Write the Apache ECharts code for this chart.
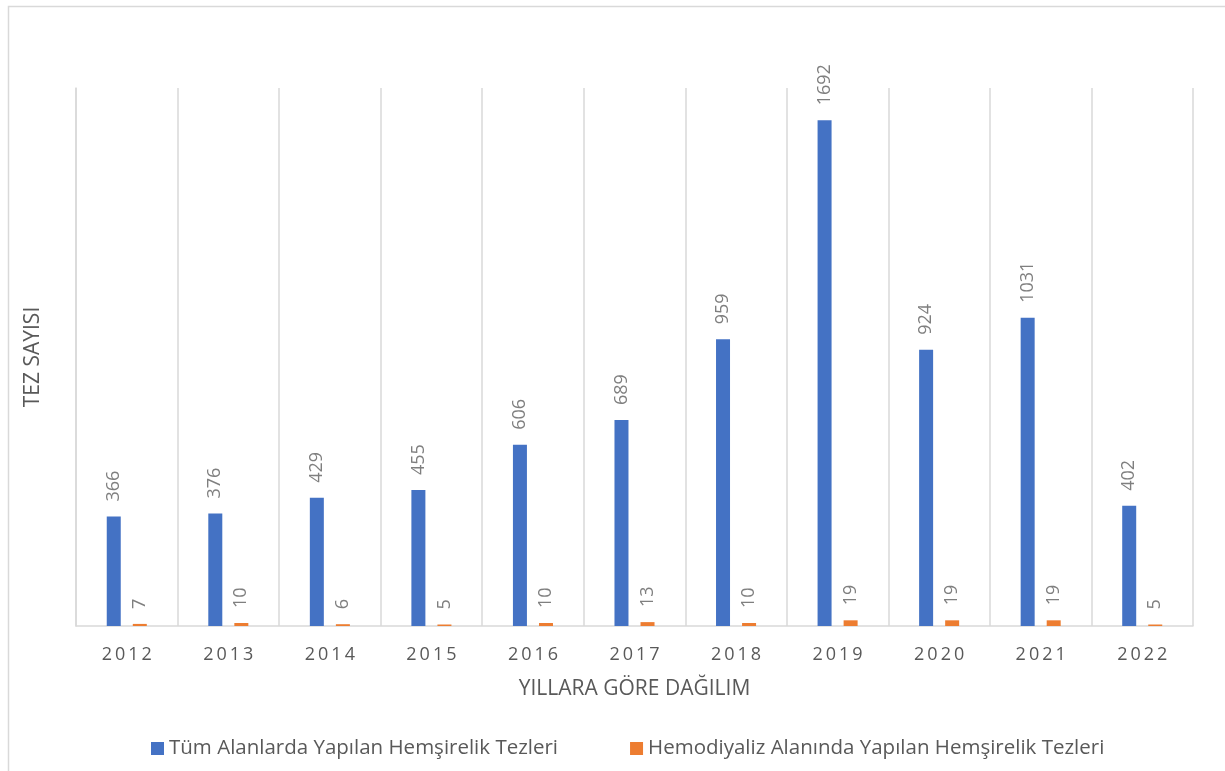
<!DOCTYPE html>
<html>
<head>
<meta charset="utf-8">
<script src="https://cdn.jsdelivr.net/npm/echarts@6/dist/echarts.min.js"></script>
<style>
  html, body { margin: 0; padding: 0; background: #fff; }
  #chart { width: 1225px; height: 771px; }
</style>
</head>
<body>
<div id="chart"></div>
<script>
  // yıllar ve tez sayıları
  const years = ['2012', '2013', '2014', '2015', '2016', '2017', '2018', '2019', '2020', '2021', '2022'];
  const tumAlanlar = [366, 376, 429, 455, 606, 689, 959, 1692, 924, 1031, 402];
  const hemodiyaliz = [7, 10, 6, 5, 10, 13, 10, 19, 19, 19, 5];

  const fontFam = '"Open Sans", "Noto Sans", sans-serif';
  const barLabel = {
    show: true,
    position: 'top',
    rotate: 90,
    align: 'left',
    verticalAlign: 'middle',
    distance: 15,
    color: '#7f7f7f',
    fontSize: 18,
    fontFamily: fontFam
  };

  let chart = echarts.init(document.getElementById('chart'));
  chart.setOption({
    animation: false,
    textStyle: { fontFamily: fontFam },
    graphic: [{
      type: 'rect',
      shape: { x: 8.5, y: 6.5, width: 1400, height: 900 },
      style: { fill: 'none', stroke: '#d9d9d9', lineWidth: 1.5 },
      silent: true
    }],
    legend: {
      left: 146,
      top: 733,
      itemWidth: 13,
      itemHeight: 13,
      itemGap: 72,
      icon: 'rect',
      textStyle: { color: '#595959', fontSize: 20.5, fontFamily: fontFam },
      data: ['Tüm Alanlarda Yapılan Hemşirelik Tezleri', 'Hemodiyaliz Alanında Yapılan Hemşirelik Tezleri']
    },
    grid: { left: 76, right: 32, top: 88, bottom: 145 },
    xAxis: {
      type: 'category',
      data: years,
      name: 'YILLARA GÖRE DAĞILIM',
      nameLocation: 'middle',
      nameGap: 53,
      nameTextStyle: { color: '#595959', fontSize: 21, fontFamily: fontFam },
      axisLine: { lineStyle: { color: '#d9d9d9', width: 1.5 } },
      axisTick: { show: false },
      axisLabel: {
        color: '#595959',
        fontSize: 18,
        margin: 20,
        formatter: (v) => v.split('').join('\u2009')
      },
      splitLine: { show: true, lineStyle: { color: '#d9d9d9', width: 1.5 } }
    },
    yAxis: {
      type: 'value',
      min: 0,
      max: 1800,
      name: 'TEZ SAYISI',
      nameLocation: 'middle',
      nameGap: 32,
      nameRotate: 90,
      nameTextStyle: { color: '#595959', fontSize: 21, fontFamily: fontFam },
      axisLine: { show: true, lineStyle: { color: '#d9d9d9', width: 1.5 } },
      axisTick: { show: false },
      axisLabel: { show: false },
      splitLine: { show: false }
    },
    series: [{
      name: 'Tüm Alanlarda Yapılan Hemşirelik Tezleri',
      type: 'bar',
      data: tumAlanlar,
      barWidth: 14,
      barGap: '86%',
      itemStyle: { color: '#4472C4' },
      label: barLabel
    }, {
      name: 'Hemodiyaliz Alanında Yapılan Hemşirelik Tezleri',
      type: 'bar',
      data: hemodiyaliz,
      barWidth: 14,
      itemStyle: { color: '#ED7D31' },
      label: barLabel
    }]
  });
</script>
</body>
</html>
